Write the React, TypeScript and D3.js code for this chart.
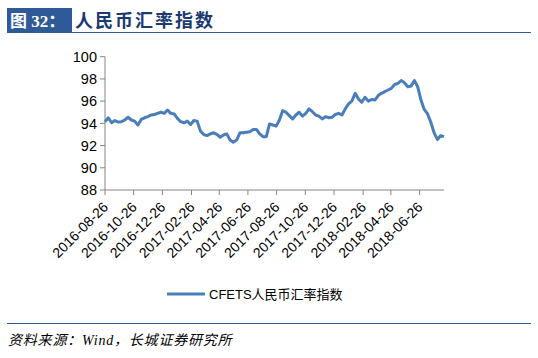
import React from "react";
import * as d3 from "d3";

const startDate = "2016-08-26";
const values: number[] = [
  94.15, 94.5, 94.05, 94.25, 94.12, 94.15, 94.3, 94.55, 94.3, 94.2,
  93.85, 94.35, 94.5, 94.6, 94.75, 94.8, 94.9, 95.0, 94.9, 95.2,
  94.9, 94.85, 94.45, 94.15, 94.05, 94.2, 93.9, 94.25, 94.2, 93.3,
  93.0, 92.9, 93.05, 93.15, 93.0, 92.75, 92.95, 93.05, 92.5, 92.3,
  92.5, 93.15, 93.15, 93.2, 93.25, 93.45, 93.45, 93.05, 92.8, 92.8,
  93.95, 93.85, 93.75, 94.3, 95.15, 95.0, 94.7, 94.4, 94.75, 95.0,
  94.65, 94.9, 95.3, 95.05, 94.75, 94.65, 94.4, 94.6, 94.5, 94.55,
  94.8, 94.9, 94.75, 95.3, 95.75, 96.0, 96.7, 96.2, 95.9, 96.35,
  96.0, 96.15, 96.1, 96.5, 96.7, 96.85, 97.0, 97.15, 97.5, 97.6,
  97.85, 97.65, 97.3, 97.35, 97.85, 97.3, 96.1, 95.25, 94.85, 94.1,
  93.15, 92.55, 92.9, 92.8,
];
const xTickLabels = [
  "2016-08-26", "2016-10-26", "2016-12-26", "2017-02-26", "2017-04-26", "2017-06-26",
  "2017-08-26", "2017-10-26", "2017-12-26", "2018-02-26", "2018-04-26", "2018-06-26",
];
const yTicks = [88, 90, 92, 94, 96, 98, 100];
const seriesName = "CFETS人民币汇率指数";
const titleNo = "图 32：";
const titleText = "人民币汇率指数";
const sourceText = "资料来源：Wind，长城证券研究所";

const parse = d3.timeParse("%Y-%m-%d");
const t0 = parse(startDate) as Date;
const data = values.map((v, i) => ({ date: d3.timeDay.offset(t0, i * 7), v }));

export default function App() {
  const W = 538, H = 358;
  const x = d3.scaleTime()
    .domain([data[0].date, data[data.length - 1].date])
    .range([105, 444]);
  const y = d3.scaleLinear().domain([88, 100]).range([190, 56.7]);
  const line = d3.line<{ date: Date; v: number }>()
    .x(d => x(d.date))
    .y(d => y(d.v))
    .curve(d3.curveLinear);
  const axisColor = "#868686";
  const font = "'Liberation Sans', Arial, sans-serif";
  const blue = "#2E5B98";
  return (
    <svg width={W} height={H} style={{ position: "absolute", left: 0, top: 0, display: "block", background: "#fff" }}>
      {/* title */}
      <rect x={7} y={8} width={65} height={24} fill={blue} />
      <text x={10} y={27} fill="#fff" fontSize={17} fontWeight="bold"
        fontFamily="'Liberation Serif', 'Noto Sans CJK SC', serif">{titleNo}</text>
      <text x={75} y={27} fill="#1B3A72" fontSize={18} fontWeight="bold" letterSpacing={2}
        fontFamily="'Noto Sans CJK SC', sans-serif">{titleText}</text>
      <line x1={7} x2={531} y1={32.5} y2={32.5} stroke={blue} strokeWidth={1.2} />

      {/* y axis */}
      <line x1={105} x2={105} y1={y(100)} y2={y(88)} stroke={axisColor} strokeWidth={1} />
      {yTicks.map(t => (
        <g key={t}>
          <line x1={100} x2={105} y1={y(t)} y2={y(t)} stroke={axisColor} />
          <text x={97} y={y(t)} dy="0.36em" textAnchor="end" fontSize={14.5} fontFamily={font} fill="#000">{t}</text>
        </g>
      ))}
      {/* x axis */}
      <line x1={105} x2={444} y1={190} y2={190} stroke={axisColor} />
      {xTickLabels.map(l => {
        const px = x(parse(l) as Date);
        return (
          <g key={l}>
            <line x1={px} x2={px} y1={190} y2={195} stroke={axisColor} />
            <text transform={`translate(${px + 4},${208}) rotate(-45)`} textAnchor="end" fontSize={14}
              fontFamily={font} fill="#000">{l}</text>
          </g>
        );
      })}

      {/* series */}
      <path d={line(data) || ""} fill="none" stroke="#4A7EBB" strokeWidth={3} strokeLinejoin="round" />

      {/* legend */}
      <line x1={167} x2={205} y1={294} y2={294} stroke="#4A7EBB" strokeWidth={3} />
      <text x={209} y={299} fontSize={13} fontFamily={"'Liberation Sans', 'Noto Sans CJK SC', sans-serif"} fill="#000">{seriesName}</text>

      {/* footer */}
      <line x1={7} x2={531} y1={323.5} y2={323.5} stroke={blue} strokeWidth={1.2} />
      <text x={8} y={345} fontSize={14} letterSpacing={0.8} fontStyle="italic"
        fontFamily="'Liberation Serif', 'Noto Sans CJK SC', serif" fill="#000">{sourceText}</text>
    </svg>
  );
}
